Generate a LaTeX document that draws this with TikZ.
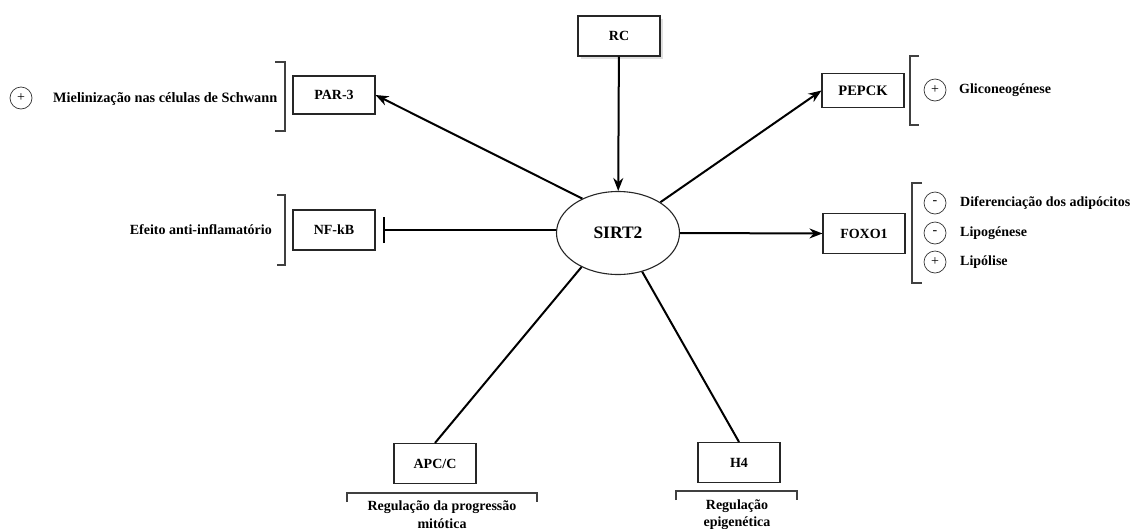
\documentclass[tikz,border=0pt]{standalone}
\usepackage{fontspec}
\setmainfont{Liberation Serif}
\usetikzlibrary{arrows.meta,shadows,shapes.geometric}
\begin{document}
\begin{tikzpicture}[x=1pt,y=-1pt,
  lbl/.style={font=\fontsize{14}{16}\selectfont\bfseries, inner sep=0pt},
  gene/.style={draw=black!85, line width=1.1pt, fill=white, minimum width=82pt,
    minimum height=40pt, inner sep=0pt, lbl},
  hub/.style={ellipse, draw=black!85, line width=1.1pt, fill=white, minimum width=123pt,
    minimum height=83pt, inner sep=0pt, font=\fontsize{17.5}{20}\selectfont\bfseries},
  link/.style={line width=2pt, black},
  act/.style={link, -{Stealth[length=13pt,width=10pt]}},
  inh/.style={link, -{Bar[width=26pt,line width=2pt]}},
  brk/.style={draw=black!75, line width=1.2pt},
  sign/.style={circle, draw=black!80, line width=0.7pt, minimum size=22pt, inner sep=0pt,
    font=\fontsize{14}{14}\selectfont},
]
\useasboundingbox (0,0) rectangle (1135,528);
\fill[white] (0,0) rectangle (1135,528);

% central protein and its partners
\node[hub] (sirt) at (618,233) {SIRT2};
\node[gene, drop shadow={opacity=0.25, shadow xshift=2.5pt, shadow yshift=-2.5pt}] (rc) at (619,36) {RC};
\node[gene, minimum height=38pt] (par3) at (334,95) {PAR-3};
\node[gene, minimum height=34pt, font=\fontsize{14.5}{16}\selectfont\bfseries] (pepck) at (863,90.5) {PEPCK};
\node[gene] (nfkb) at (334,230) {NF-kB};
\node[gene] (foxo) at (864,233.5) {FOXO1};
\node[gene] (apc) at (435,463.5) {APC/C};
\node[gene] (h4) at (739,462.5) {H4};

% interactions
\coordinate (nfkbbar) at (383,230);
\draw[act] (rc) -- (sirt);
\draw[act] (sirt.136) -- (par3.east);
\draw[act] (sirt.36) -- (pepck.west);
\draw[act] (sirt.east) -- (foxo.west);
\draw[inh] (sirt.west |- nfkbbar) -- (nfkbbar);
\draw[link] (sirt.223) -- (apc.north);
\draw[link] (sirt.302) -- (h4.north);

% brackets grouping the effects
\draw[brk] (275,62) -- (285,62) -- (285,131) -- (275,131);
\draw[brk] (277,195) -- (285,195) -- (285,265) -- (277,265);
\draw[brk] (919,56) -- (910,56) -- (910,125) -- (919,125);
\draw[brk] (922,183) -- (912,183) -- (912,283) -- (922,283);
\draw[brk] (347,502) -- (347,493) -- (537,493) -- (537,502);
\draw[brk] (676,500) -- (676,491) -- (797,491) -- (797,500);

% effects
\node[sign] (s1) at (21,98) {+};
\node[lbl, anchor=west, font=\fontsize{14.3}{17}\selectfont\bfseries] (mielin) at (53,99) {Mielinização nas células de Schwann};
\node[lbl, anchor=east] (efeito) at (272,230) {Efeito anti-inflamatório};
\node[sign] (s2) at (935,90) {+};
\node[lbl, anchor=west] (glic) at (959,90) {Gliconeogénese};
\node[sign] (s3) at (935,203) {-};
\node[lbl, anchor=west] (difer) at (960,203) {Diferenciação dos adipócitos};
\node[sign] (s4) at (935,233) {-};
\node[lbl, anchor=west] (lipog) at (960,233) {Lipogénese};
\node[sign] (s5) at (935,262) {+};
\node[lbl, anchor=west] (lipol) at (960,262) {Lipólise};
\node[lbl] (reg1a) at (442,507) {Regulação da progressão};
\node[lbl] (reg1b) at (442,524) {mitótica};
\node[lbl] (reg2a) at (737,506) {Regulação};
\node[lbl] (reg2b) at (737,523) {epigenética};
\end{tikzpicture}
\end{document}
